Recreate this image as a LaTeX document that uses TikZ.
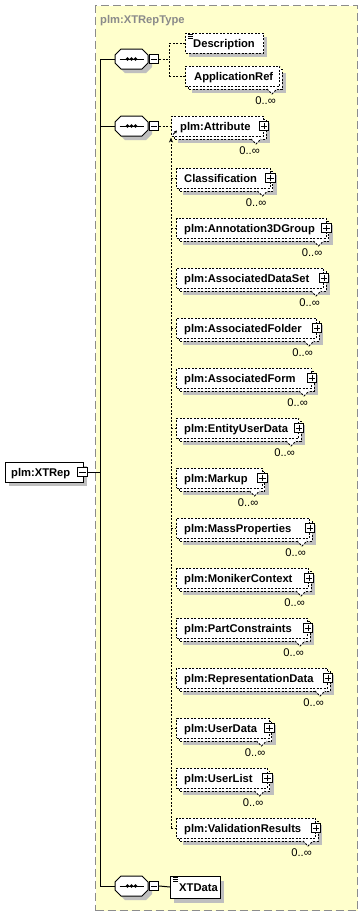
\documentclass[tikz,border=0pt]{standalone}
\usepackage{fontspec}
\setmainfont{Liberation Sans}
\usetikzlibrary{arrows.meta}
\definecolor{frameyellow}{HTML}{FFFFCC}
\definecolor{shadowgray}{HTML}{BFBFBF}
\definecolor{titlegray}{HTML}{8A8A8A}
\definecolor{framegray}{HTML}{8C8C8C}
\tikzset{
  lbl/.style={font=\fontsize{11.2}{13}\selectfont\bfseries, inner sep=0pt, anchor=base west},
  multlbl/.style={font=\fontsize{11.2}{13}\selectfont, inner sep=0pt, anchor=base east},
  ebox/.style={draw=black, fill=white, line width=1pt, minimum height=20pt, inner sep=0pt, anchor=west},
  optdash/.style={dash pattern=on 2pt off 1.5pt},
  shadowfill/.style={fill=shadowgray, draw=none},
  pmbox/.style={draw=black, fill=white, line width=0.9pt, minimum size=9.5pt, inner sep=0pt},
  conn/.style={draw=black, line width=1pt},
  octfill/.style={draw=black, fill=white, line width=1pt},
  iconline/.style={line width=0.7pt},
}
\newcommand\octagon[3]{\path[#3] (#1-10.5,#2-10) -- (#1+10.5,#2-10) -- (#1+16.5,#2-4) -- (#1+16.5,#2+4) -- (#1+10.5,#2+10) -- (#1-10.5,#2+10) -- (#1-16.5,#2+4) -- (#1-16.5,#2-4) -- cycle;}
\newcommand\seqgrp[3]{%
  \octagon{#2+4}{#3+4}{shadowfill}
  \node[minimum width=33pt, minimum height=20pt, inner sep=0pt] (#1) at (#2,#3) {};
  \octagon{#2}{#3}{octfill}
  \draw[line width=1pt] (#2-12,#3) -- (#2+12,#3);
  \fill (#2-4,#3) circle (1.8pt) (#2,#3) circle (1.8pt) (#2+4,#3) circle (1.8pt);
  \node[pmbox] (#1m) at (#2+22.5,#3) {};
  \draw[line width=0.9pt] ([xshift=2pt]#1m.west) -- ([xshift=-2pt]#1m.east);
}
\newcommand\stackel[6]{%
  \fill[shadowfill] (#2+7,#4-3) rectangle (#3+7,#4+17);
  \draw[optdash, fill=white, line width=1pt] (#2+3,#4-7) rectangle (#3+3,#4+13);
  \draw[optdash, fill=white, line width=1pt] (#3-12,#4+13) -- (#3-7,#4+18) -- (#3-2,#4+13);
  \node[ebox, optdash, minimum width={#3-#2}] (#1) at (#2,#4) {};
  \node[lbl] (#1t) at (#2+#5,#4+4) {#6};
  \node[multlbl] (#1n) at (#3-3,#4+28) {0..∞};
}
\newcommand\plusbox[1]{%
  \node[pmbox] (#1p) at (#1.east) {};
  \draw[line width=0.9pt] ([xshift=2pt]#1p.west) -- ([xshift=-2pt]#1p.east) ([yshift=2pt]#1p.south) -- ([yshift=-2pt]#1p.north);
}
\newcommand\memb[4]{%
  \stackel{#1}{176}{#3}{#2}{8}{#4}
  \plusbox{#1}
  \draw[conn, optdash] (attr.west |- #1.west) -- (#1.west);
}
\begin{document}
\begin{tikzpicture}[x=1pt, y=-1pt]
\useasboundingbox (0,0) rectangle (363,916);
\node[draw=framegray, fill=frameyellow, dash pattern=on 8pt off 4pt, line width=1pt, minimum width=262, minimum height=905, anchor=north west, inner sep=0pt] (frame) at (95,5) {};
\node[lbl, text=titlegray] (title) at (100,23) {plm:XTRepType};

% root element
\fill[shadowfill] (9,466) rectangle (87,486);
\node[ebox, minimum width=78] (xtrep) at (5,472) {};
\node[lbl] (xtrept) at (11,476) {plm:XTRep};
\node[pmbox] (xtrepm) at (82.5,472) {};
\draw[line width=0.9pt] ([xshift=2pt]xtrepm.west) -- ([xshift=-2pt]xtrepm.east);

% sequences
\seqgrp{s1}{131.5}{59}
\seqgrp{s2}{131.5}{126}
\seqgrp{s3}{131.5}{886}

\coordinate (trunk) at (100,472);
\draw[conn] (xtrepm.east) -- (trunk);
\draw[conn] (s1.west) -| (trunk);
\draw[conn] (s3.west) -| (trunk);
\draw[conn] (s2.west) -- (s2.west -| trunk);

% first sequence
\fill[shadowfill] (189,37) rectangle (267,57);
\node[ebox, optdash, minimum width=78] (desc) at (185,43) {};
\node[lbl] (desct) at (193,47) {Description};
\draw[iconline] ([shift={(3,1.5)}]desc.north west) -- ++(5,0) ([shift={(3,3.5)}]desc.north west) -- ++(5,0) ([shift={(3,5.5)}]desc.north west) -- ++(5,0);
\stackel{appref}{185}{279}{76}{9}{ApplicationRef}
\draw[conn, optdash] (s1m.east) -- ++(10.5,0) coordinate (fork1);
\draw[conn, optdash] (desc.west) -| (fork1);
\draw[conn, optdash] (appref.west) -| (fork1);

% second sequence
\stackel{attr}{171}{263}{126}{9}{plm:Attribute}
\plusbox{attr}
\draw[conn, optdash] (s2m.east) -- (attr.west);
\draw[line width=0.9pt, -{Stealth[length=3pt,width=3pt]}] ([shift={(2,-2)}]attr.south west) -- ++(4,-4);

\memb{m1}{178}{269.5}{Classification}
\memb{m2}{228}{325.5}{plm:Annotation3DGroup}
\memb{m3}{278}{323}{plm:AssociatedDataSet}
\memb{m4}{328}{316}{plm:AssociatedFolder}
\memb{m5}{378}{311}{plm:AssociatedForm}
\memb{m6}{428}{298}{plm:EntityUserData}
\memb{m7}{478}{261.5}{plm:Markup}
\memb{m8}{528}{309}{plm:MassProperties}
\memb{m9}{578}{308}{plm:MonikerContext}
\memb{m10}{628}{307}{plm:PartConstraints}
\memb{m11}{678}{327}{plm:RepresentationData}
\memb{m12}{728}{268.5}{plm:UserData}
\memb{m13}{778}{266.5}{plm:UserList}
\memb{m14}{828}{315}{plm:ValidationResults}
\draw[conn, optdash, -{Stealth[length=5pt,width=4pt]}] (attr.west |- m14.west) -- ([yshift=-1pt]attr.south west);

% third sequence
\fill[shadowfill] (174,881) rectangle (224,903);
\node[ebox, minimum width=50, minimum height=22] (xtdata) at (170,887) {};
\node[lbl] (xtdatat) at (179,891) {XTData};
\draw[iconline] ([shift={(3,1.5)}]xtdata.north west) -- ++(5,0) ([shift={(3,3.5)}]xtdata.north west) -- ++(5,0) ([shift={(3,5.5)}]xtdata.north west) -- ++(5,0);
\draw[conn] (s3m.east) -- (xtdata.west);
\end{tikzpicture}
\end{document}
